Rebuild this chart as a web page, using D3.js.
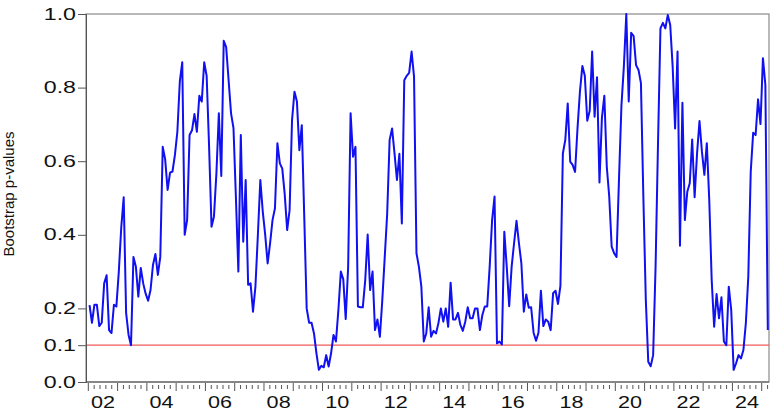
<!DOCTYPE html>
<html>
<head>
<meta charset="utf-8">
<script src="https://cdn.jsdelivr.net/npm/d3@7"></script>
<style>
  html, body { margin: 0; padding: 0; background: #fff; }
  svg { display: block; }
  text { font-family: "Liberation Sans", Arial, sans-serif; fill: #111; }
</style>
</head>
<body>
<svg id="chart" width="773" height="411"></svg>
<script>
// ---- data ----
const startYear = 2002;          // first observation: January 2002 (monthly)
const pValues = [
  0.209,0.161,0.21,0.21,0.152,0.161,0.268,0.29,0.141,0.133,0.21,0.205,
  0.30,0.42,0.502,0.187,0.128,0.10,0.34,0.313,0.232,0.31,0.268,0.24,
  0.221,0.25,0.318,0.348,0.291,0.34,0.639,0.605,0.522,0.569,0.572,0.617,
  0.68,0.816,0.869,0.40,0.44,0.671,0.684,0.728,0.68,0.778,0.762,0.869,
  0.832,0.64,0.422,0.45,0.567,0.73,0.56,0.927,0.91,0.82,0.73,0.69,
  0.50,0.30,0.671,0.381,0.549,0.264,0.268,0.191,0.26,0.40,0.549,0.463,
  0.40,0.322,0.377,0.44,0.472,0.649,0.594,0.58,0.51,0.413,0.467,0.712,
  0.789,0.762,0.63,0.698,0.45,0.20,0.161,0.161,0.132,0.078,0.033,0.044,
  0.04,0.073,0.042,0.078,0.128,0.11,0.196,0.30,0.279,0.171,0.313,0.73,
  0.612,0.639,0.205,0.203,0.203,0.277,0.401,0.25,0.30,0.141,0.17,0.123,
  0.223,0.34,0.458,0.658,0.689,0.621,0.549,0.62,0.431,0.82,0.832,0.84,
  0.898,0.83,0.35,0.313,0.259,0.11,0.132,0.203,0.123,0.139,0.132,0.16,
  0.2,0.164,0.2,0.15,0.27,0.17,0.17,0.188,0.155,0.139,0.164,0.203,
  0.173,0.173,0.2,0.2,0.141,0.182,0.205,0.205,0.313,0.44,0.504,0.105,
  0.11,0.102,0.408,0.313,0.206,0.313,0.377,0.438,0.377,0.322,0.191,0.238,
  0.202,0.203,0.134,0.112,0.134,0.248,0.152,0.17,0.164,0.141,0.241,0.248,
  0.212,0.261,0.621,0.658,0.757,0.599,0.59,0.571,0.689,0.789,0.859,0.832,
  0.71,0.737,0.898,0.721,0.828,0.542,0.717,0.778,0.585,0.504,0.368,0.35,
  0.34,0.55,0.75,0.857,1.0,0.762,0.949,0.94,0.861,0.848,0.812,0.50,
  0.223,0.055,0.043,0.073,0.313,0.65,0.961,0.976,0.961,0.997,0.97,0.857,
  0.689,0.898,0.37,0.759,0.44,0.517,0.54,0.659,0.502,0.621,0.709,0.626,
  0.563,0.649,0.495,0.277,0.15,0.239,0.173,0.23,0.11,0.10,0.259,0.196,
  0.033,0.051,0.073,0.064,0.087,0.16,0.286,0.571,0.677,0.671,0.768,0.701,
  0.88,0.807,0.141
];
const threshold = 0.1;
const yTickValues = [0.0, 0.1, 0.2, 0.4, 0.6, 0.8, 1.0];
const yearTicks = d3.range(2002, 2026);            // major ticks (year starts)
const yearLabels = [2002,2004,2006,2008,2010,2012,2014,2016,2018,2020,2022,2024];
const yLabel = "Bootstrap p-values";

// ---- layout ----
const svg = d3.select("#chart");
const plot = { left: 86, right: 769, top: 14, bottom: 382 };

const x = d3.scaleLinear().domain([2001.921, 2025.249]).range([plot.left, plot.right]);
const y = d3.scaleLinear().domain([0, 1]).range([plot.bottom, plot.top]);

const series = pValues.map((v, i) => ({ t: startYear + (i + 0.5) / 12, v }));

// frame (top & right)
svg.append("rect")
  .attr("x", plot.left).attr("y", plot.top)
  .attr("width", plot.right - plot.left).attr("height", plot.bottom - plot.top)
  .attr("fill", "none").attr("stroke", "#8a8a8a").attr("stroke-width", 1.2);

// threshold line
svg.append("line")
  .attr("x1", plot.left).attr("x2", plot.right)
  .attr("y1", y(threshold)).attr("y2", y(threshold))
  .attr("stroke", "#f05a5a").attr("stroke-width", 1.2);

// data line
svg.append("path")
  .datum(series)
  .attr("fill", "none")
  .attr("stroke", "#1010f0")
  .attr("stroke-width", 2)
  .attr("stroke-linejoin", "round")
  .attr("d", d3.line().x(d => x(d.t)).y(d => y(d.v)));

// y axis
const yAxis = d3.axisLeft(y).tickValues(yTickValues).tickFormat(d3.format(".1f")).tickSize(8).tickPadding(3);
const gy = svg.append("g").attr("transform", `translate(${plot.left},0)`).call(yAxis);
gy.select(".domain").attr("stroke", "#555");
gy.selectAll(".tick line").attr("stroke", "#555");
gy.selectAll(".tick text")
  .attr("x", null)
  .attr("font-size", 16).attr("fill", "#111")
  .attr("font-family", "'Liberation Sans', Arial, sans-serif")
  .attr("transform", "translate(-10,0) scale(1.45,1)");

// x axis: major ticks at year starts, 4 minor ticks between
const gx = svg.append("g").attr("transform", `translate(0,${plot.bottom})`);
gx.append("line").attr("x1", plot.left).attr("x2", plot.right)
  .attr("stroke", "#555").attr("stroke-width", 1);
const minor = [];
yearTicks.forEach(yr => { for (let k = 1; k < 5; k++) minor.push(yr + k / 5); });
const minorIn = minor.filter(t => x(t) <= plot.right);
gx.selectAll("line.minor").data(minorIn).enter().append("line")
  .attr("class", "minor")
  .attr("x1", d => x(d)).attr("x2", d => x(d))
  .attr("y1", 3).attr("y2", 7).attr("stroke", "#555");
gx.selectAll("line.major").data(yearTicks).enter().append("line")
  .attr("class", "major")
  .attr("x1", d => x(d)).attr("x2", d => x(d))
  .attr("y1", 1).attr("y2", 9).attr("stroke", "#555");
gx.selectAll("text.yl").data(yearLabels).enter().append("text")
  .attr("class", "yl")
  .attr("transform", d => `translate(${x(d + 0.5)},26) scale(1.35,1)`)
  .attr("text-anchor", "middle")
  .attr("font-size", 16)
  .text(d => String(d % 100).padStart(2, "0"));

// y label
svg.append("text")
  .attr("transform", `translate(13.5,194) rotate(-90)`)
  .attr("text-anchor", "middle")
  .attr("font-size", 15)
  .text(yLabel);
</script>
</body>
</html>
